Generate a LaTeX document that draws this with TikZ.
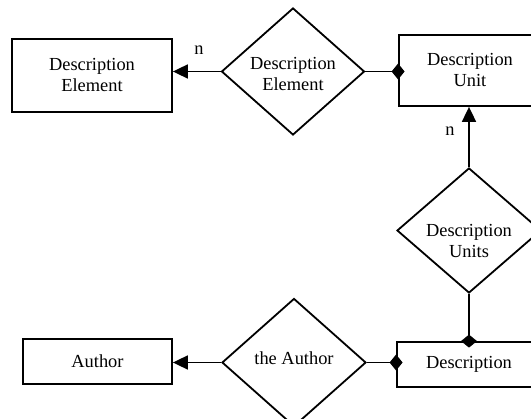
\documentclass[tikz,border=0pt]{standalone}
\usepackage{fontspec}
\setmainfont{Liberation Serif}
\usetikzlibrary{shapes.geometric,arrows.meta}
\pgfdeclarelayer{edgelayer}
\pgfdeclarelayer{nodelayer}
\pgfsetlayers{edgelayer,nodelayer,main}
\tikzset{font=\fontsize{18.4}{21}\selectfont}
\tikzstyle{none}=[inner sep=0pt]
\tikzstyle{entity}=[rectangle,draw,line width=1.8pt,align=center,inner sep=0pt]
\tikzstyle{rel}=[diamond,draw,line width=1.8pt,inner sep=0pt]
\tikzstyle{reltext}=[align=center,inner sep=0pt]
\tikzstyle{many}=[line width=1.8pt,-{Triangle[length=15pt,width=14pt]}]
\tikzstyle{part}=[line width=1.8pt,-{Diamond[length=13pt,width=16pt]},shorten >=-6.5pt]

\begin{document}
\begin{tikzpicture}[x=1pt,y=-1pt]
	\useasboundingbox (0,0) rectangle (531,419);
	\begin{pgfonlayer}{nodelayer}
		\node [style=entity, minimum width=160pt, minimum height=73pt] (0) at (92, 75.5) {Description\\Element};
		\node [style=rel, minimum width=143pt, minimum height=127pt,
			label={[style=reltext, yshift=-3pt]center:Description\\Element}] (1) at (293, 71.5) {};
		\node [style=entity, minimum width=142pt, minimum height=71pt] (2) at (470, 70.5) {Description\\Unit};
		\node [style=rel, minimum width=144pt, minimum height=125pt,
			label={[style=reltext, yshift=-11pt]center:Description\\Units}] (3) at (469, 230.5) {};
		\node [style=entity, minimum width=144pt, minimum height=45pt] (4) at (469, 364.5) {Description};
		\node [style=rel, minimum width=144pt, minimum height=128pt,
			label={[style=reltext, yshift=4pt]center:the Author}] (5) at (294, 362.5) {};
		\node [style=entity, minimum width=149pt, minimum height=45pt] (6) at (97.5, 361.5) {Author};
		\node [style=none] (7) at (199, 50) {n};
		\node [style=none] (8) at (450, 131) {n};
	\end{pgfonlayer}
	\begin{pgfonlayer}{edgelayer}
		\draw [style=many] (1.west) to (1.west -| 0.east);
		\draw [style=part] (1.east) to (1.east -| 2.west);
		\draw [style=many] (3.north) to (3.north |- 2.south);
		\draw [style=part] (3.south) to (3.south |- 4.north);
		\draw [style=part] (5.east) to (5.east -| 4.west);
		\draw [style=many] (5.west) to (5.west -| 6.east);
	\end{pgfonlayer}
\end{tikzpicture}
\end{document}
